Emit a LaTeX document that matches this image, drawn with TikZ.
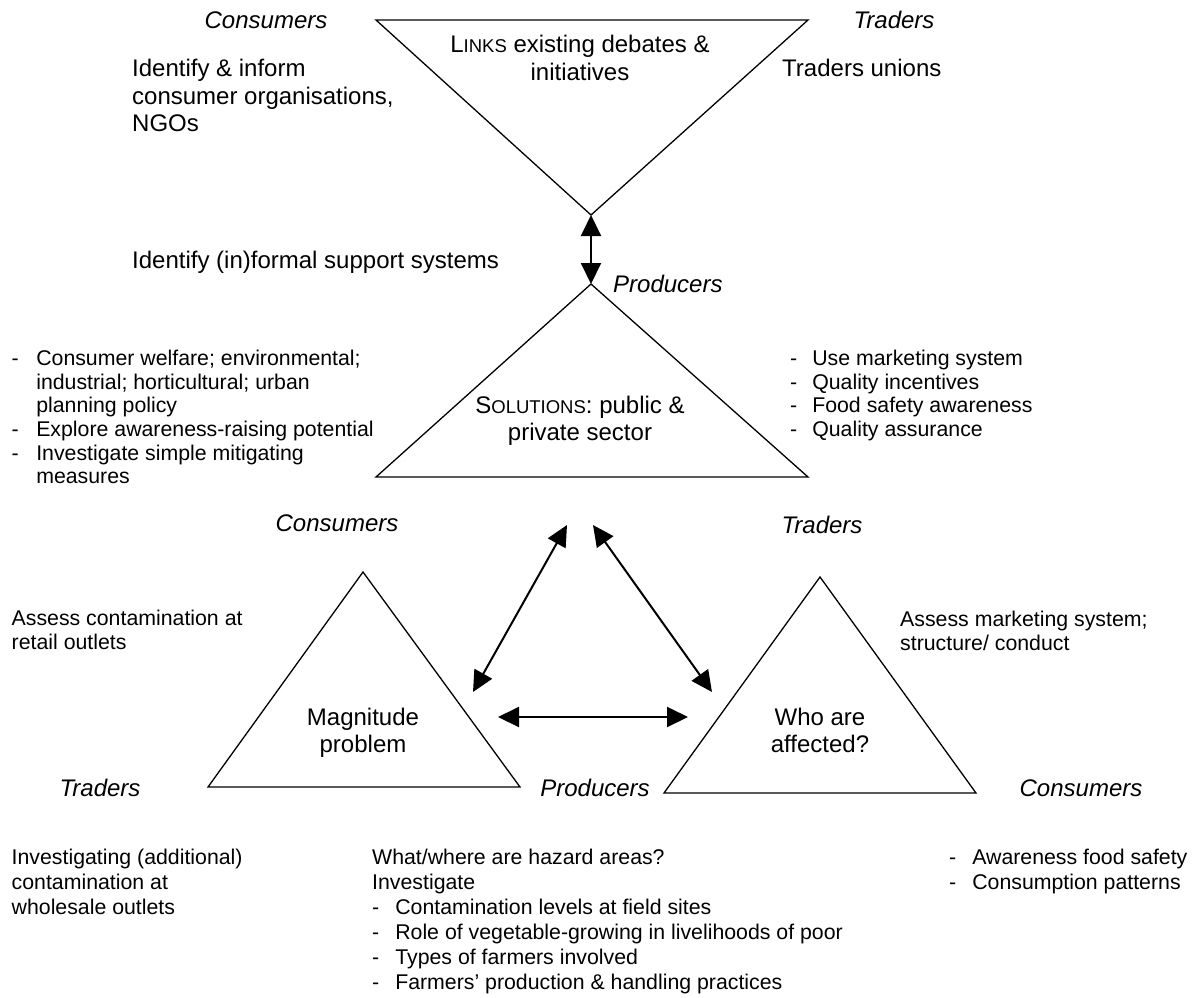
\documentclass[tikz,border=0pt]{standalone}
\usepackage{fontspec}
\setmainfont{Liberation Sans}
\usetikzlibrary{arrows.meta}
\newcommand{\mysc}[1]{{\fontsize{18.5}{20}\selectfont #1}}
\newcommand{\txtblock}[2]{\begin{tabular}[t]{@{}#1@{}}#2\end{tabular}}
\begin{document}
\begin{tikzpicture}[x=1pt,y=-1pt,
  tri/.style={line width=1.3pt, line join=miter},
  dbl/.style={line width=2pt, {Triangle[length=21pt,width=20pt]}-{Triangle[length=21pt,width=20pt]}},
  role/.style={font=\fontsize{24}{27.5}\selectfont\itshape, inner sep=0pt, anchor=base},
  big/.style={font=\fontsize{24}{#1}\selectfont, inner sep=0pt},
  big/.default=27.5,
  sm/.style={font=\fontsize{21.3}{#1}\selectfont, inner sep=0pt},
  sm/.default=23.6,
]
\fill[white] (0,0) rectangle (1197,997);
\useasboundingbox (0,0) rectangle (1197,997);

% ---------- triangles ----------
\coordinate (tL) at (376,20);
\coordinate (tR) at (808,20);
\coordinate (tApex) at (591,215);
\draw[tri] (tL) -- (tR) -- (tApex) -- cycle;

\coordinate (sApex) at (591,284);
\coordinate (sL) at (376,477);
\coordinate (sR) at (808,477);
\draw[tri] (sApex) -- (sR) -- (sL) -- cycle;

\coordinate (mApex) at (363,572);
\coordinate (mL) at (208,787);
\coordinate (mR) at (520,787);
\draw[tri] (mApex) -- (mR) -- (mL) -- cycle;

\coordinate (wApex) at (820,577);
\coordinate (wL) at (664,793);
\coordinate (wR) at (976,793);
\draw[tri] (wApex) -- (wR) -- (wL) -- cycle;

% ---------- arrows ----------
\draw[dbl] (tApex) -- (sApex);
\coordinate (aLtop) at (567,525);
\coordinate (aLbot) at (473,692);
\coordinate (aRtop) at (593,525);
\coordinate (aRbot) at (712,692);
\coordinate (aHl) at (498,717);
\coordinate (aHr) at (688,717);
\draw[dbl] (aLtop) -- (aLbot);
\draw[dbl] (aRtop) -- (aRbot);
\draw[dbl] (aHl) -- (aHr);

% ---------- top triangle texts ----------
\node[role] (topCons) at (266,28.6) {Consumers};
\node[role] (topTrad) at (894,28.6) {Traders};
\node[big, anchor=base] (links) at (580,52.6)
  {\txtblock{c}{L\mysc{INKS} existing debates \&\\ initiatives}};
\node[big, anchor=base west] (idInform) at (132,76.6)
  {\txtblock{l}{Identify \& inform\\ consumer organisations,\\ NGOs}};
\node[big, anchor=base west] (tradUnions) at (782,76.6) {Traders unions};
\node[big, anchor=base west] (idSupport) at (132,268.6) {Identify (in)formal support systems};
\node[role, anchor=base west] (prodTop) at (613,292.6) {Producers};

% ---------- solutions triangle texts ----------
\node[big=27, anchor=base] (solText) at (580,413.6)
  {\txtblock{c}{S\mysc{OLUTIONS}: public \&\\ private sector}};
\node[sm, anchor=base west] (leftList) at (11.5,365.7)
  {\txtblock{l@{\hspace{17.5pt}}l}{-&Consumer welfare; environmental;\\
   &industrial; horticultural; urban\\
   &planning policy\\
   -&Explore awareness-raising potential\\
   -&Investigate simple mitigating\\
   &measures}};
\node[sm, anchor=base west] (rightList) at (790,365.7)
  {\txtblock{l@{\hspace{15pt}}l}{-&Use marketing system\\
   -&Quality incentives\\
   -&Food safety awareness\\
   -&Quality assurance}};

% ---------- lower triangles texts ----------
\node[role] (midCons) at (337,531.6) {Consumers};
\node[role] (midTrad) at (822,533.6) {Traders};
\node[sm=24, anchor=base west] (assessCont) at (11.5,625.7)
  {\txtblock{l}{Assess contamination at\\ retail outlets}};
\node[sm=24, anchor=base west] (assessMkt) at (900,626.7)
  {\txtblock{l}{Assess marketing system;\\ structure/ conduct}};
\node[big=27, anchor=base] (magText) at (363,725.6)
  {\txtblock{c}{Magnitude\\ problem}};
\node[big=27, anchor=base] (whoText) at (820,725.6)
  {\txtblock{c}{Who are\\ affected?}};
\node[role] (botTrad) at (100,796.6) {Traders};
\node[role] (botProd) at (595,796.6) {Producers};
\node[role] (botCons) at (1081,796.6) {Consumers};

% ---------- bottom texts ----------
\node[sm=25, anchor=base west] (investAdd) at (11.5,864.7)
  {\txtblock{l}{Investigating (additional)\\ contamination at\\ wholesale outlets}};
\node[sm=25, anchor=base west] (whatWhere) at (372,864.7)
  {\txtblock{l@{\hspace{16pt}}l}{\multicolumn{2}{@{}l@{}}{What/where are hazard areas?}\\
   \multicolumn{2}{@{}l@{}}{Investigate}\\
   -&Contamination levels at field sites\\
   -&Role of vegetable-growing in livelihoods of poor\\
   -&Types of farmers involved\\
   -&Farmers’ production \& handling practices}};
\node[sm=25, anchor=base west] (rightBot) at (949,864.7)
  {\txtblock{l@{\hspace{16pt}}l}{-&Awareness food safety\\
   -&Consumption patterns}};
\end{tikzpicture}
\end{document}
